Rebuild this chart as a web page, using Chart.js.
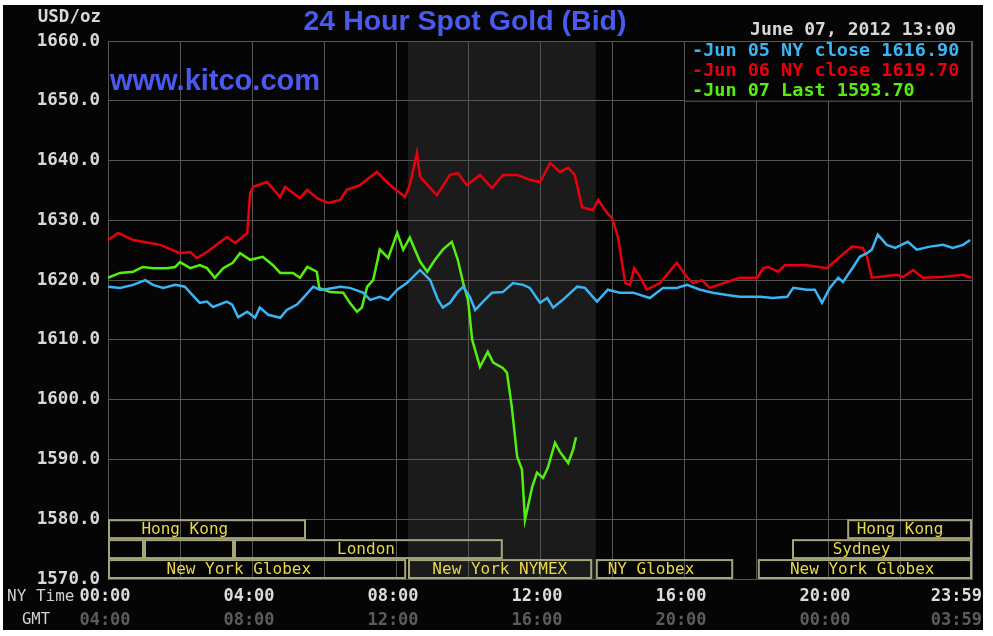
<!DOCTYPE html>
<html>
<head>
<meta charset="utf-8">
<script src="https://cdn.jsdelivr.net/npm/chart.js@4.4.1/dist/chart.umd.min.js"></script>
<style>
html, body { margin: 0; padding: 0; background: #fff; }
#wrap { width: 993px; height: 636px; }
</style>
</head>
<body>
<div id="wrap"><canvas id="goldChart"></canvas></div>
<script>
// times are minutes after NY midnight
const blueTimes = [0,20,42,62,75,92,112,128,137,153,165,175,198,207,217,232,245,253,267,287,298,315,325,342,353,
  358,387,403,425,437,453,467,482,498,520,537,550,558,570,582,592,603,612,625,640,658,675,692,703,
  720,732,742,758,782,795,815,833,853,875,903,925,948,965,987,1008,1032,1053,
  1087,1108,1132,1142,1165,1178,1190,1203,1217,1225,1242,1253,1265,1273,1283,1298,1312,1333,1348,1370,1392,1408,1425,1437];
const blueValues = [1618.9,1618.7,1619.2,1620.0,1619.2,1618.7,1619.2,1618.9,1617.9,1616.2,1616.4,1615.5,1616.4,1615.9,1613.8,1614.7,1613.7,1615.4,1614.2,1613.7,1615.0,1615.9,1617.0,1618.9,1618.4,
  1618.4,1618.9,1618.7,1617.9,1616.7,1617.2,1616.7,1618.4,1619.5,1621.7,1620.0,1616.7,1615.4,1616.2,1617.9,1618.9,1617.2,1615.0,1616.4,1617.9,1618.0,1619.5,1619.2,1618.7,
  1616.2,1617.0,1615.4,1616.7,1618.9,1618.7,1616.4,1618.4,1617.9,1617.9,1617.0,1618.7,1618.7,1619.2,1618.4,1617.9,1617.5,1617.2,
  1617.2,1617.0,1617.2,1618.7,1618.4,1618.4,1616.2,1618.7,1620.4,1619.7,1622.2,1623.9,1624.5,1625.1,1627.6,1625.9,1625.4,1626.4,1625.1,1625.6,1625.9,1625.4,1625.9,1626.7];

const redTimes = [0,17,42,70,87,120,137,148,165,198,212,232,237,242,265,287,295,320,332,348,
  367,387,398,420,448,458,470,495,503,515,520,548,570,583,598,620,640,658,682,703,
  720,737,753,767,778,790,808,817,832,840,850,862,870,877,887,898,920,948,965,975,990,1003,1032,1053,
  1082,1092,1100,1117,1128,1165,1198,1220,1240,1258,1265,1273,1315,1325,1342,1358,1387,1425,1439];
const redValues = [1626.7,1627.9,1626.7,1626.2,1625.9,1624.5,1624.7,1623.7,1624.7,1627.2,1626.2,1627.9,1634.6,1635.6,1636.4,1633.9,1635.6,1633.7,1635.1,1633.7,
  1632.9,1633.4,1635.1,1635.9,1638.1,1637.1,1635.9,1633.9,1635.9,1641.3,1637.3,1634.2,1637.6,1637.9,1635.9,1637.6,1635.4,1637.6,1637.6,1636.8,
  1636.4,1639.6,1638.1,1638.8,1637.6,1632.2,1631.7,1633.4,1631.2,1630.4,1627.2,1619.5,1619.2,1622.0,1620.5,1618.4,1619.5,1622.9,1620.5,1619.5,1620.0,1618.7,1619.7,1620.4,
  1620.4,1622.0,1622.2,1621.4,1622.5,1622.5,1622.0,1623.9,1625.6,1625.4,1623.9,1620.4,1620.9,1620.5,1621.7,1620.4,1620.5,1620.9,1620.4];

const greenTimes = [0,20,42,58,75,98,112,120,137,153,165,178,192,208,220,237,258,275,287,308,320,332,342,348,352,
  370,392,403,415,423,432,442,453,467,482,492,503,520,532,545,558,573,583,592,600,607,
  620,633,642,658,665,673,682,690,695,707,715,725,733,745,753,767,775,780];
const greenValues = [1620.4,1621.2,1621.4,1622.2,1622.0,1622.0,1622.2,1623.0,1622.0,1622.5,1622.0,1620.4,1622.0,1622.9,1624.5,1623.4,1623.9,1622.5,1621.2,1621.2,1620.4,1622.2,1621.7,1621.4,1618.7,
  1618.0,1617.9,1616.2,1614.7,1615.4,1618.9,1620.0,1625.1,1623.7,1627.9,1625.1,1627.1,1623.1,1621.4,1623.4,1625.1,1626.4,1623.4,1619.5,1616.7,1610.0,
  1605.5,1608.0,1606.2,1605.3,1604.5,1598.8,1590.4,1588.3,1579.9,1585.4,1587.8,1586.9,1588.6,1592.8,1591.3,1589.4,1591.6,1593.7];

const legendLabels = ["Jun 05 NY close 1616.90", "Jun 06 NY close 1619.70", "Jun 07 Last 1593.70"];
const tickTimes = [0, 240, 480, 720, 960, 1200, 1439];
const nyLabels = ["00:00", "04:00", "08:00", "12:00", "16:00", "20:00", "23:59"];
const gmtLabels = ["04:00", "08:00", "12:00", "16:00", "20:00", "00:00", "03:59"];

// trading sessions (row 0 = top)
const sessionNames = ["Hong Kong", "Hong Kong", "", "", "London", "Sydney", "New York Globex", "New York NYMEX", "NY Globex", "New York Globex"];
const sessionStart = [0, 1232, 0, 60, 210, 1140, 0, 500, 813, 1083];
const sessionEnd   = [330, 1440, 60, 210, 658, 1440, 497, 807, 1042, 1440];
const sessionRow   = [0, 0, 1, 1, 1, 1, 2, 2, 2, 2];
const sessionTextAt = [128, 1320, null, null, 430, 1256, 218, 653, 905, 1257];
const nymexStart = 500, nymexEnd = 813;

const colors = ["#3ab4f2", "#e8000c", "#55ee11"];
const mono = "'DejaVu Sans Mono', monospace";

function series(times, values) {
  return times.map((t, i) => ({ x: t, y: values[i] }));
}

const decor = {
  id: "decor",
  beforeDraw(chart) {
    const { ctx, chartArea: a } = chart;
    const xs = chart.scales.x;
    ctx.save();
    ctx.fillStyle = "#fff";
    ctx.fillRect(0, 0, chart.width, chart.height);
    ctx.fillStyle = "#050505";
    ctx.fillRect(3, 5, 980, 625);
    ctx.fillStyle = "#1b1b1b";
    const x0 = xs.getPixelForValue(nymexStart), x1 = xs.getPixelForValue(nymexEnd);
    ctx.fillRect(x0, a.top, x1 - x0, a.bottom - a.top);
    ctx.restore();
  },
  beforeDatasetsDraw(chart) {
    const { ctx } = chart;
    const xs = chart.scales.x, ys = chart.scales.y;
    const top = ys.getPixelForValue(1580);
    const rowH = (ys.getPixelForValue(1570) - top) / 3;
    ctx.save();
    ctx.strokeStyle = "#a6a47a";
    ctx.lineWidth = 2;
    ctx.font = "16px " + mono;
    ctx.fillStyle = "#e8d84a";
    ctx.textAlign = "center";
    ctx.textBaseline = "middle";
    sessionNames.forEach((name, i) => {
      const l = xs.getPixelForValue(sessionStart[i]);
      const r = xs.getPixelForValue(sessionEnd[i]);
      const t = top + sessionRow[i] * rowH;
      ctx.strokeRect(l + 1, t + 1, r - l - 2, rowH - 2);
      if (name) ctx.fillText(name, xs.getPixelForValue(sessionTextAt[i]), t + rowH / 2 + 1);
    });
    // legend box
    const lx = xs.getPixelForValue(960);
    const lb = ys.getPixelForValue(1650);
    ctx.fillStyle = "#050505";
    ctx.fillRect(lx, chart.chartArea.top, chart.chartArea.right - lx, lb - chart.chartArea.top);
    ctx.strokeStyle = "#555";
    ctx.lineWidth = 1;
    ctx.strokeRect(lx + 0.5, chart.chartArea.top + 0.5, chart.chartArea.right - lx - 1, lb - chart.chartArea.top);
    ctx.restore();
  },
  afterDraw(chart) {
    const { ctx } = chart;
    const xs = chart.scales.x;
    ctx.save();
    ctx.textBaseline = "middle";
    // title
    ctx.fillStyle = "#4a5af0";
    ctx.textAlign = "center";
    ctx.font = "bold 28.5px 'Liberation Sans', Arial, sans-serif";
    ctx.fillText("24 Hour Spot Gold (Bid)", 465, 22);
    ctx.textAlign = "left";
    ctx.font = "bold 29px 'Liberation Sans', Arial, sans-serif";
    ctx.fillText("www.kitco.com", 110, 82);
    // axis title and date
    ctx.fillStyle = "#d8d8d8";
    ctx.font = "bold 17.5px " + mono;
    ctx.textAlign = "right";
    ctx.fillText("USD/oz", 101, 17);
    ctx.font = "bold 18px " + mono;
    ctx.fillText("June 07, 2012 13:00", 956, 30);
    // legend entries
    ctx.textAlign = "left";
    ctx.font = "bold 18.5px " + mono;
    legendLabels.forEach((txt, i) => {
      ctx.fillStyle = colors[i];
      ctx.fillText("-" + txt, 692, 51 + i * 20);
    });
    // time axis labels
    ctx.font = "bold 17px " + mono;
    tickTimes.forEach((t, i) => {
      const last = i === tickTimes.length - 1;
      ctx.textAlign = last ? "right" : "center";
      const px = last ? chart.chartArea.right + 10 : xs.getPixelForValue(t) - 3;
      ctx.fillStyle = "#dcdcdc";
      ctx.fillText(nyLabels[i], px, 597);
      ctx.fillStyle = "#5c5c5c";
      ctx.fillText(gmtLabels[i], px, 621);
    });
    ctx.textAlign = "left";
    ctx.fillStyle = "#d0d0d0";
    ctx.font = "16px " + mono;
    ctx.fillText("NY Time", 7, 597);
    ctx.font = "15.5px " + mono;
    ctx.fillText("GMT", 22, 620);
    ctx.restore();
  }
};

new Chart(document.getElementById("goldChart"), {
  type: "line",
  data: {
    datasets: [
      { label: legendLabels[0], data: series(blueTimes, blueValues), borderColor: colors[0] },
      { label: legendLabels[1], data: series(redTimes, redValues), borderColor: colors[1] },
      { label: legendLabels[2], data: series(greenTimes, greenValues), borderColor: colors[2] },
    ],
  },
  options: {
    responsive: true,
    maintainAspectRatio: false,
    animation: false,
    layout: { padding: { top: 41, right: 21, bottom: 0, left: 0 } },
    elements: {
      point: { radius: 0 },
      line: { borderWidth: 2.5, tension: 0 },
    },
    plugins: {
      legend: { display: false },
      tooltip: { enabled: false },
    },
    scales: {
      x: {
        type: "linear",
        min: 0,
        max: 1440,
        ticks: { stepSize: 120, display: false },
        grid: { color: "#555", drawTicks: false },
        border: { color: "#555" },
        afterFit: (s) => { s.height = 57; },
      },
      y: {
        min: 1570,
        max: 1660,
        ticks: {
          stepSize: 10,
          padding: 8,
          color: "#d8d8d8",
          font: { family: "'DejaVu Sans Mono'", size: 17.5, weight: "bold" },
          callback: (v) => v.toFixed(1),
        },
        grid: { color: "#555", drawTicks: false },
        border: { color: "#555" },
        afterFit: (s) => { s.width = 108; },
      },
    },
  },
  plugins: [decor],
});
</script>
</body>
</html>
